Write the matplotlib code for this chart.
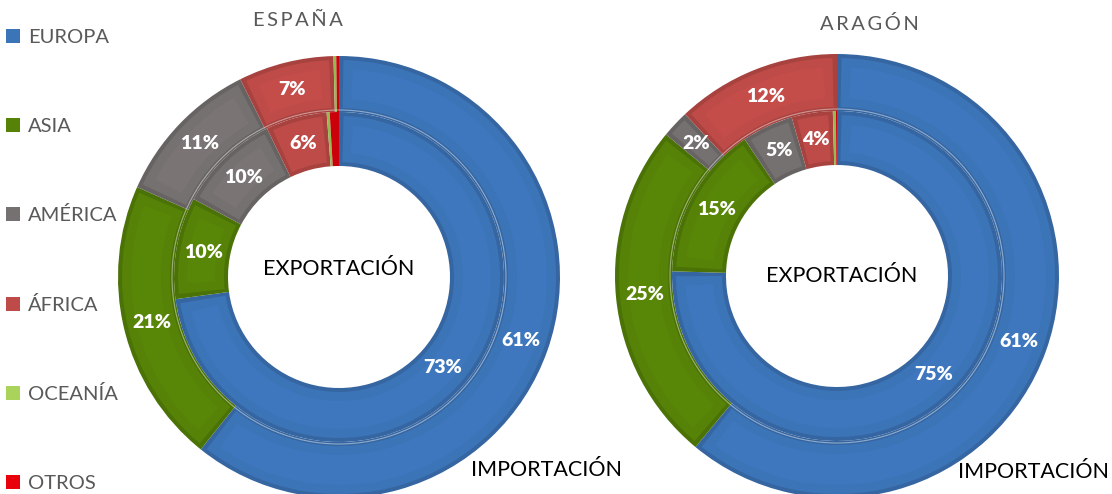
import numpy as np
import matplotlib.pyplot as plt
from matplotlib.patches import Patch, Circle

#-- DATI
regiones = ['EUROPA', 'ASIA', 'AMÉRICA', 'ÁFRICA', 'OCEANÍA', 'OTROS']
colores  = ['#3C74B8', '#558207', '#767171', '#BE4B48', '#A9D35A', '#E8000B']

esp_imp = [61, 21, 11, 7, 0.2, 0.2]     # anillo exterior (importación)
esp_exp = [73, 10, 10, 6, 0.3, 0.9]     # anillo interior (exportación)
ara_imp = [61, 25, 2, 12, 0.0, 0.0]
ara_exp = [75, 15, 5, 4, 0.3, 0.1]

W, H = 1112, 494
DPI  = 100
FAM  = ['Lato', 'DejaVu Sans']


def sombra(c, f):
    c = np.array(plt.matplotlib.colors.to_rgb(c))
    return tuple(np.clip(c * f, 0, 1))


def anillo(ax, vals, r, w, R):
    # capa base (borde oscuro) + capa interior (color principal) + faceta
    capas = [(0.0, 0.88), (4.0 / R, 1.0), (13.0 / R, 1.03)]
    wedges_base = None
    for ins, f in capas:
        cols = [sombra(c, f) for c in colores]
        wedges, _ = ax.pie(vals, radius=r, colors=cols, startangle=90, counterclock=False,
                           wedgeprops=dict(width=w, linewidth=0))
        if wedges_base is None:
            wedges_base = wedges
        if ins == 0:
            continue
        for wd, v in zip(wedges, vals):
            rm = r - w / 2
            dth = np.degrees(ins / rm)
            if (wd.theta2 - wd.theta1) < 4 * dth or v < 1.5:
                wd.set_visible(False)
                continue
            wd.set_radius(r - ins)
            wd.set_width(w - 2 * ins)
            wd.set_theta1(wd.theta1 + dth)
            wd.set_theta2(wd.theta2 - dth)
    # etiquetas %
    for wd, v in zip(wedges_base, vals):
        if v < 1.5:
            continue
        ang = np.radians((wd.theta1 + wd.theta2) / 2)
        rm = r - w / 2
        ax.text(rm * np.cos(ang), rm * np.sin(ang), '%d%%' % round(v), ha='center', va='center',
                color='white', fontsize=14, fontweight='heavy', family=FAM)


def dona(fig, cx, cy, R, imp, exp, dx_exp, dy_exp, x_imp, y_imp):
    ax = fig.add_axes([(cx - R) / W, (H - cy - R) / H, 2 * R / W, 2 * R / H])
    r_mid  = 165.0 / R
    r_hole = 111.0 / R
    anillo(ax, imp, 1.0, 1.0 - r_mid, R)
    anillo(ax, exp, r_mid, r_mid - r_hole, R)
    ax.add_patch(Circle((0, 0), r_mid + 2.0 / R, fill=False, edgecolor='white', alpha=0.45, lw=0.8))
    ax.set_xlim(-1, 1)
    ax.set_ylim(-1, 1)
    ax.set_aspect('auto')
    ax.axis('off')
    ax.text(dx_exp, dy_exp, 'EXPORTACIÓN', ha='center', va='center', fontsize=15.5,
            color='black', family=FAM)
    ax.text(x_imp, y_imp, 'IMPORTACIÓN', ha='center', va='center', fontsize=15.5,
            color='black', family=FAM, clip_on=False)
    return ax


fig = plt.figure(figsize=(W / DPI, H / DPI), dpi=DPI)

dona(fig, 339, 277, 221, esp_imp, esp_exp, 0.0, 0.036, 0.937, -0.873)
dona(fig, 837, 276, 222, ara_imp, ara_exp, 0.02, 0.0, 0.883, -0.883)

#-- TITULOS
fig.text(298 / W, 1 - 20 / H, '\u2009'.join('ESPAÑA'), ha='center', va='center', fontsize=14.5,
         color='#595959', family=FAM)
fig.text(869 / W, 1 - 24 / H, '\u2009'.join('ARAGÓN'), ha='center', va='center', fontsize=14.5,
         color='#595959', family=FAM)

#-- LEYENDA
handles = [Patch(facecolor=c, edgecolor='none') for c in colores]
leg = fig.legend(handles, regiones, loc='upper left', bbox_to_anchor=(6 / W, 1 - 29 / H),
                 frameon=False, labelspacing=3.55, handlelength=0.7,
                 handleheight=0.7, handletextpad=0.4, borderpad=0, borderaxespad=0,
                 prop=dict(family=FAM, size=14.5))
for t in leg.get_texts():
    t.set_color('#595959')

fig.savefig('out.png', dpi=DPI)
